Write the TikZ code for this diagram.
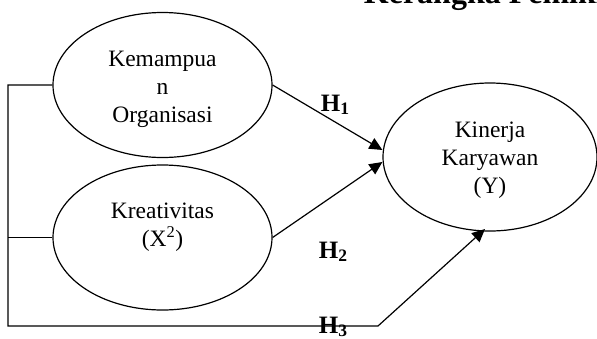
\documentclass[tikz,border=0pt]{standalone}
\usepackage{fontspec}
\setmainfont{Liberation Serif}
\usetikzlibrary{shapes.geometric,arrows.meta}
\begin{document}
\begin{tikzpicture}[x=1pt, y=-1pt, line width=1.2pt,
 var/.style={ellipse, draw, minimum width=219pt, minimum height=145pt},
 vartxt/.style={align=center, font=\fontsize{23.5}{28}\selectfont},
 hyp/.style={anchor=base west, font=\fontsize{25}{28}\selectfont\bfseries},
 arr/.style={-{Triangle[length=13pt, width=12pt]}}]
 \useasboundingbox (0,0) rectangle (597,338);
 \node[anchor=base west, font=\fontsize{32}{36}\selectfont\bfseries] (title) at (360,3) {Kerangka Pemikiran};
 \node[var] (kem) at (162.5,85) {};
 \node[var] (kre) at (162.5,237.5) {};
 \node[var, minimum width=214pt, minimum height=148pt] (kin) at (490,157) {};
 \node[vartxt] (kemtxt) at ([yshift=-4.5pt]kem.center) {Kemampua\\n\\Organisasi};
 \node[vartxt] (kretxt) at ([yshift=10pt]kre.center) {Kreativitas\\(X\textsuperscript{2})};
 \node[vartxt] (kintxt) at ([yshift=-3.5pt]kin.center) {Kinerja\\Karyawan\\(Y)};
 \coordinate (in1) at ([yshift=7pt]kin.west);
 \coordinate (in2) at ([yshift=-5pt]kin.west);
 \coordinate (in3) at (485,229);
 \coordinate (lt) at (8,85);
 \coordinate (lb) at (8,326);
 \coordinate (bend) at (378,326);
 \draw[arr] (kem.east) -- (in1);
 \draw[arr] (kre.east) -- (in2);
 \draw[arr] (kem.west) -- (lt) -- (lb) -- (bend) -- (in3);
 \draw (kre.west) -- (kre.west -| lt);
 \node[hyp] (h1) at (317,111) {H\textsubscript{1}};
 \node[hyp] (h2) at (315,258) {H\textsubscript{2}};
 \node[hyp] (h3) at (315,333) {H\textsubscript{3}};
\end{tikzpicture}
\end{document}
